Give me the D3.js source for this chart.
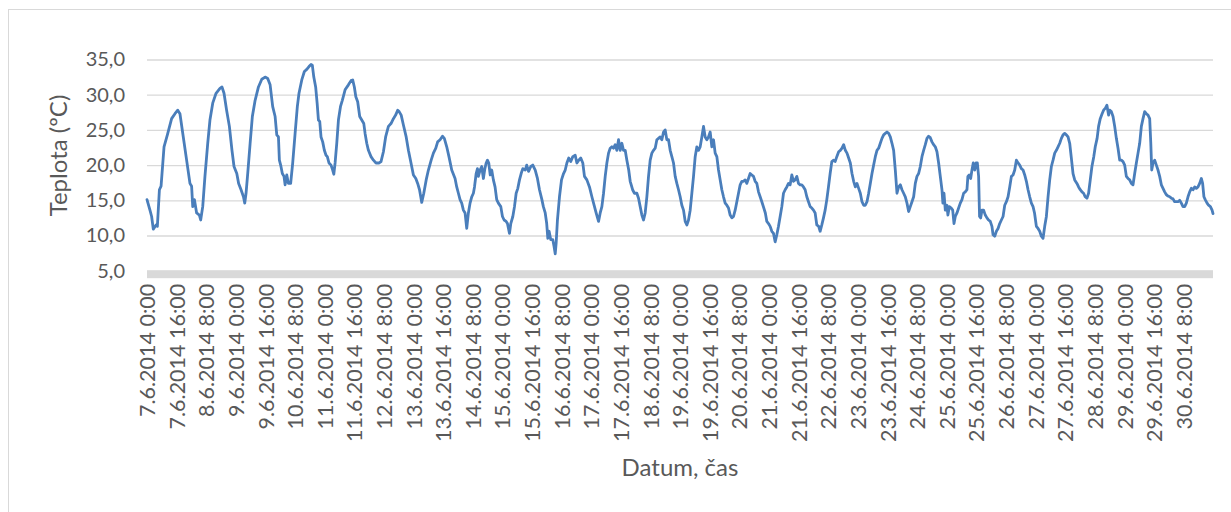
<!DOCTYPE html>
<html>
<head>
<meta charset="utf-8">
<script src="https://cdn.jsdelivr.net/npm/d3@7"></script>
<style>
  html, body { margin: 0; padding: 0; background: #fff; }
  svg { display: block; }
  text { font-family: Lato, "Open Sans", sans-serif; fill: #595959; }
</style>
</head>
<body>
<svg id="chart" width="1231" height="512"></svg>
<script>
// ---- data ----
const startLabel = "7.6.2014 0:00";
const yTickValues = [5, 10, 15, 20, 25, 30, 35];
const xTickLabels = [
  "7.6.2014 0:00","7.6.2014 16:00","8.6.2014 8:00","9.6.2014 0:00","9.6.2014 16:00",
  "10.6.2014 8:00","11.6.2014 0:00","11.6.2014 16:00","12.6.2014 8:00","13.6.2014 0:00",
  "13.6.2014 16:00","14.6.2014 8:00","15.6.2014 0:00","15.6.2014 16:00","16.6.2014 8:00",
  "17.6.2014 0:00","17.6.2014 16:00","18.6.2014 8:00","19.6.2014 0:00","19.6.2014 16:00",
  "20.6.2014 8:00","21.6.2014 0:00","21.6.2014 16:00","22.6.2014 8:00","23.6.2014 0:00",
  "23.6.2014 16:00","24.6.2014 8:00","25.6.2014 0:00","25.6.2014 16:00","26.6.2014 8:00",
  "27.6.2014 0:00","27.6.2014 16:00","28.6.2014 8:00","29.6.2014 0:00","29.6.2014 16:00",
  "30.6.2014 8:00"
];
// hours since 7.6.2014 0:00
const obsHour = [
  0,1.6,2.5,3.4,4.9,5.6,6.7,7.6,9.2,11.0,
  13.3,15.1,16.6,17.8,19.6,21.4,23.2,24.1,24.7,25.6,
  26.8,28.3,29.0,30.1,31.3,32.8,34.0,35.5,37.3,39.4,
  40.5,41.6,43.0,44.5,45.9,47.0,48.5,49.5,50.8,52.1,
  52.8,53.5,54.4,55.7,56.9,58.4,60.2,62.0,63.8,65.2,
  66.5,67.9,69.2,70.1,71.0,71.5,72.2,73.1,74.0,74.6,
  75.5,76.4,77.6,78.7,80.0,81.2,
  82.1,83.6,85.0,86.3,87.5,88.6,89.3,90.1,91.1,91.9,
  92.6,93.3,94.0,94.9,95.8,96.7,97.4,98.3,99.4,100.3,
  100.9,101.6,102.5,103.4,104.5,105.5,107.0,108.8,110.2,111.1,
  112.0,112.8,113.8,114.9,116.0,117.1,117.8,118.7,119.6,121.0,
  122.3,123.7,125.4,126.4,127.7,128.9,130.4,131.8,133.1,134.3,
  135.4,136.2,137.3,138.5,140.0,141.2,142.6,143.9,145.2,146.2,
  147.2,148.4,149.5,150.8,152.0,153.5,154.7,156.0,157.0,158.3,
  159.6,160.6,161.9,163.1,164.6,166.4,
  167.3,168.2,169.1,170.0,170.9,171.8,172.7,173.6,174.5,175.4,
  176.3,176.9,177.8,178.5,179.0,179.9,180.8,181.7,182.5,183.2,
  183.9,184.6,185.4,186.2,187.1,188.0,188.9,189.8,191.1,192.0,
  192.9,194.0,194.7,195.8,196.5,197.6,198.5,199.4,200.3,201.2,
  202.1,203.0,204.3,205.1,206.1,207.3,208.4,209.7,210.9,212.0,
  213.3,214.1,215.1,215.9,216.5,217.2,218.1,219.2,219.9,220.5,
  221.0,221.7,222.8,223.9,225.0,225.9,226.8,227.8,228.9,230.0,
  231.3,232.2,233.2,234.3,235.4,236.3,237.6,239.0,240.3,241.5,
  242.6,243.9,244.8,245.7,246.6,247.5,248.4,249.3,250.2,
  251.1,252.0,252.9,253.8,254.7,255.6,256.5,257.4,258.3,259.2,
  260.2,261.0,262.3,263.3,264.6,265.5,266.4,267.3,268.2,269.1,
  270.0,270.9,271.8,272.7,273.6,274.5,275.4,276.3,277.2,278.1,
  279.0,279.9,280.8,281.7,282.6,283.5,284.4,285.3,286.2,287.1,
  288.0,288.9,289.8,290.7,291.6,292.5,293.4,294.3,295.2,296.1,
  297.0,297.9,298.8,299.7,300.6,301.5,302.4,303.3,304.2,305.1,
  306.0,306.9,307.8,308.7,309.6,310.5,311.4,312.3,313.2,314.1,
  315.0,315.9,316.8,317.7,318.6,319.5,320.4,321.3,322.2,323.1,
  324.0,324.9,325.8,326.7,327.6,328.5,329.4,330.3,331.2,332.1,
  334.0,334.8,335.7,336.6,337.5,338.4,339.3,340.2,341.1,342.0,
  342.9,343.8,344.7,345.6,346.5,347.4,348.3,349.2,350.1,351.0,
  351.9,352.8,353.7,354.6,355.5,356.4,357.3,358.2,359.1,360.0,
  360.9,361.8,362.8,363.6,364.5,365.4,366.3,367.2,368.1,369.0,
  369.9,370.9,371.7,372.6,373.6,374.5,375.4,376.3,377.2,378.1,
  379.0,379.9,380.8,381.7,382.6,383.5,384.4,385.3,386.2,387.1,
  388.0,388.9,389.8,390.7,391.6,392.5,393.4,394.3,395.2,396.1,
  397.0,397.9,398.8,399.7,400.6,401.5,402.4,403.3,404.2,405.1,
  406.0,406.9,407.8,408.7,409.6,410.5,411.4,412.3,413.2,414.1,
  415.0,415.9,416.8,417.7,
  418.6,419.5,420.4,421.3,422.2,423.1,424.0,424.9,425.8,426.7,
  427.6,428.5,429.4,429.9,430.5,431.2,432.1,432.6,433.4,434.4,
  435.2,435.9,436.6,437.5,438.4,439.3,440.2,441.1,442.0,442.9,
  443.4,444.1,444.9,445.6,446.3,447.1,447.8,448.5,449.2,449.7,
  450.3,451.0,451.9,452.8,453.7,454.6,455.5,456.4,457.0,457.9,
  458.8,459.7,460.6,461.5,462.4,463.3,464.2,465.1,466.0,466.9,
  467.8,468.7,469.6,470.5,471.4,472.3,473.2,474.1,475.0,475.9,
  476.8,477.7,478.6,479.4,480.4,481.3,482.2,483.1,484.0,484.9,
  485.8,486.7,487.6,488.5,489.4,490.3,491.2,492.1,493.0,493.9,
  494.8,495.7,496.6,497.5,498.4,499.2,500.2,501.1,
  502.3,503.2,504.1,505.0,505.9,506.8,507.7,508.6,509.5,510.4,
  511.4,512.2,513.2,514.0,514.9,515.9,516.7,517.7,518.5,519.4,
  520.0,520.9,521.8,522.7,523.6,524.5,525.4,526.3,527.2,528.1,
  529.0,529.9,530.8,531.7,532.6,533.5,534.4,535.3,536.2,537.1,
  538.0,538.9,539.8,540.7,541.6,542.2,542.7,543.4,544.3,545.2,
  546.1,547.0,547.9,548.8,549.7,550.6,551.5,552.4,553.3,554.2,
  555.1,556.0,556.9,557.8,558.7,559.6,560.5,561.4,562.3,563.2,
  564.1,565.0,565.9,566.8,567.7,568.6,569.5,570.2,570.9,571.6,
  572.6,573.4,574.4,575.3,575.8
];
const obsTemp = [
  15.1,13.6,12.7,10.9,11.5,11.3,16.5,17.0,22.6,24.3,
  26.6,27.3,27.8,27.3,24.0,20.7,17.4,17.0,14.1,15.1,
  13.2,12.9,12.2,14.1,18.4,23.1,26.4,28.8,30.2,30.9,
  31.1,30.2,27.8,25.5,22.1,19.8,18.8,17.4,16.5,15.5,
  14.6,16.0,18.8,23.1,26.9,29.2,31.1,32.2,32.5,32.3,
  31.4,28.3,26.9,24.3,24.0,20.7,20.0,18.8,18.4,17.2,
  18.6,17.4,17.4,20.3,24.5,28.3,
  30.2,32.1,33.3,33.6,34.0,34.3,34.2,32.5,31.1,28.8,
  26.4,26.2,24.0,23.3,22.1,21.4,21.2,20.3,20.0,19.3,
  18.7,20.3,23.1,26.4,28.3,29.2,30.7,31.4,32.0,32.1,
  31.1,29.7,29.0,26.9,26.4,25.9,24.5,23.1,22.1,21.2,
  20.7,20.3,20.3,20.5,21.9,24.0,25.5,25.9,26.6,27.1,
  27.8,27.6,27.1,25.7,24.0,22.1,20.3,18.6,18.1,17.4,
  16.5,14.7,16.0,17.9,19.3,20.7,21.7,22.4,23.3,23.6,
  24.1,23.8,22.6,21.2,19.3,18.1,
  16.9,16.0,15.1,14.6,13.6,13.2,11.0,13.2,14.6,15.5,
  16.0,16.9,18.8,19.5,18.4,19.3,19.8,18.1,19.5,20.3,
  20.7,20.3,18.6,19.3,17.9,16.9,15.1,14.6,14.1,12.7,
  12.2,12.0,11.7,10.3,11.7,12.7,14.1,16.0,16.7,17.9,
  18.8,19.5,19.3,20.0,19.1,19.8,20.0,19.3,18.1,16.5,
  15.1,14.1,13.2,11.7,9.6,10.6,9.4,9.4,8.4,7.4,
  8.9,12.2,15.5,17.9,18.8,19.3,20.3,21.0,20.5,21.2,
  21.4,20.3,20.7,21.0,20.3,18.4,17.9,16.9,15.5,14.3,
  13.2,12.0,13.2,14.1,16.0,18.4,20.3,21.7,22.4,
  22.6,22.4,22.9,22.1,23.6,22.1,23.1,22.1,22.1,20.7,
  19.3,17.7,16.5,16.0,16.0,15.3,14.1,12.9,12.2,13.2,
  15.5,18.4,20.7,21.7,22.1,22.4,23.6,23.8,24.0,23.6,
  24.7,25.0,23.6,23.6,22.1,21.2,20.3,18.4,17.4,16.5,
  15.5,14.3,13.6,12.0,11.5,12.2,13.6,16.0,18.4,21.2,
  22.6,22.1,22.6,24.0,25.5,24.0,23.6,24.0,24.7,22.6,
  23.6,21.7,21.2,19.3,17.9,16.5,15.5,14.6,14.3,13.9,
  12.9,12.5,12.7,13.6,14.8,16.0,17.2,17.7,17.7,17.9,
  17.4,18.1,18.8,18.6,18.4,17.7,17.4,16.2,15.5,14.8,
  13.2,12.0,11.7,11.3,10.6,10.3,9.1,10.1,11.3,12.7,
  14.1,16.0,16.5,16.9,17.4,17.2,18.6,17.7,17.9,18.4,
  17.4,17.2,17.2,16.9,16.5,15.5,14.8,14.1,13.9,13.6,
  13.2,11.5,11.3,10.6,11.5,12.5,13.6,15.1,16.9,18.8,
  20.5,20.7,20.5,21.2,21.9,22.1,22.4,22.9,22.1,21.7,
  21.0,20.3,18.8,17.7,16.9,17.4,16.7,16.0,14.8,14.3,
  14.3,14.8,16.0,17.4,18.8,20.0,21.2,22.1,22.4,23.1,
  23.8,24.3,24.5,24.7,24.5,24.0,23.1,22.1,19.3,16.0,
  16.9,17.2,16.5,16.0,15.5,14.6,13.4,14.1,14.8,15.5,
  17.4,18.4,18.8,19.8,
  21.2,22.1,22.9,23.8,24.1,23.9,23.3,22.9,22.6,21.9,
  20.3,18.4,16.5,14.6,16.0,13.6,14.3,12.9,14.1,13.9,
  13.6,11.7,12.7,13.2,13.9,14.6,15.1,16.0,16.2,16.5,
  18.4,18.6,18.1,19.3,20.3,19.3,20.3,20.3,18.4,12.7,
  12.5,13.6,13.6,12.9,12.5,12.2,12.0,11.3,10.1,9.9,
  10.6,11.0,11.7,12.2,12.7,14.3,14.8,15.5,16.9,18.4,
  18.6,19.3,20.7,20.3,20.0,19.5,19.3,18.6,17.7,16.5,
  15.5,14.6,14.1,13.2,11.3,11.0,10.6,9.9,9.6,11.3,
  12.7,15.5,17.9,19.8,20.7,21.7,22.1,22.6,23.1,23.8,
  24.3,24.5,24.3,24.0,23.1,21.2,18.8,17.9,
  17.4,16.9,16.5,16.2,16.0,15.5,15.3,16.0,17.9,19.8,
  21.2,22.6,23.8,25.5,26.6,27.3,27.8,28.1,28.5,27.1,
  27.8,27.6,26.9,25.5,23.8,22.4,20.7,20.7,20.5,20.0,
  18.4,18.1,17.9,17.4,17.2,18.8,20.3,21.7,23.1,25.5,
  26.6,27.6,27.3,27.1,26.6,23.1,19.3,20.3,20.7,20.0,
  19.3,18.4,17.2,16.7,16.2,15.8,15.6,15.5,15.3,15.2,
  14.8,14.8,14.8,15.0,14.6,14.1,14.1,14.6,15.5,16.2,
  16.7,16.5,16.9,16.7,16.9,17.4,18.1,17.4,15.5,15.1,
  14.6,14.3,14.1,13.6,13.1
];
const yTitle = "Teplota (ºC)";
const xTitle = "Datum, čas";

// ---- drawing ----
const svg = d3.select("#chart");
const W = 1231, H = 512;
const plot = { left: 147, right: 1213, top: 59.5, bottom: 270.7 };

const parse = d3.timeParse("%d.%m.%Y %H:%M");
const t0 = parse(startLabel);
const data = d3.zip(obsHour, obsTemp).map(([h, v]) => ({ t: new Date(t0.getTime() + h * 3600000), v }));

const x = d3.scaleTime().domain(d3.extent(data, d => d.t)).range([plot.left, plot.right]);
const y = d3.scaleLinear().domain([5, 35]).range([plot.bottom, plot.top]);

const csLocale = d3.formatLocale({ decimal: ",", thousands: "\u00a0", grouping: [3], currency: ["", " Kč"] });
const fmt = csLocale.format(".1f");

// chart border
svg.append("rect")
  .attr("x", 8.5).attr("y", 9.5)
  .attr("width", W + 10).attr("height", H + 10)
  .attr("fill", "none").attr("stroke", "#d9d9d9").attr("stroke-width", 1);

// gridlines
const grid = svg.append("g")
  .attr("transform", `translate(${plot.left},0)`)
  .call(d3.axisLeft(y).tickValues(yTickValues.filter(v => v > 5)).tickSize(-(plot.right - plot.left)).tickFormat(""));
grid.select(".domain").remove();
grid.selectAll("line").attr("stroke", "#d9d9d9").attr("stroke-width", 1.3);

// thick category axis line at 5
svg.append("rect")
  .attr("x", plot.left).attr("y", y(5) - 0.5)
  .attr("width", plot.right - plot.left).attr("height", 8)
  .attr("fill", "#d9d9d9");

// y axis labels
const yAxis = svg.append("g")
  .attr("transform", `translate(${plot.left},0)`)
  .call(d3.axisLeft(y).tickValues(yTickValues).tickSize(0).tickPadding(22).tickFormat(fmt));
yAxis.select(".domain").remove();
yAxis.selectAll("text")
  .attr("font-family", "Lato, 'Open Sans', sans-serif")
  .attr("font-size", 20).attr("fill", "#595959");

// x axis labels
const xAxis = svg.append("g")
  .attr("transform", `translate(0,${y(5)})`)
  .call(d3.axisBottom(x).tickValues(xTickLabels.map(parse)).tickSize(0)
        .tickFormat((d, i) => xTickLabels[i]));
xAxis.select(".domain").remove();
xAxis.selectAll("text")
  .attr("font-family", "Lato, 'Open Sans', sans-serif")
  .attr("font-size", 21.5).attr("fill", "#595959")
  .attr("text-anchor", "end")
  .attr("y", 0).attr("dy", "0.35em")
  .attr("transform", "translate(0,13) rotate(-90)");

// line
svg.append("path")
  .datum(data)
  .attr("fill", "none")
  .attr("stroke", "#4a7ebb")
  .attr("stroke-width", 2.8)
  .attr("stroke-linejoin", "round")
  .attr("stroke-linecap", "round")
  .attr("d", d3.line().x(d => x(d.t)).y(d => y(d.v)));

// axis titles
svg.append("text")
  .attr("transform", "translate(67,155.5) rotate(-90)")
  .attr("text-anchor", "middle")
  .attr("font-size", 24)
  .text(yTitle);

svg.append("text")
  .attr("x", (plot.left + plot.right) / 2)
  .attr("y", 476)
  .attr("text-anchor", "middle")
  .attr("font-size", 24)
  .text(xTitle);
</script>
</body>
</html>
